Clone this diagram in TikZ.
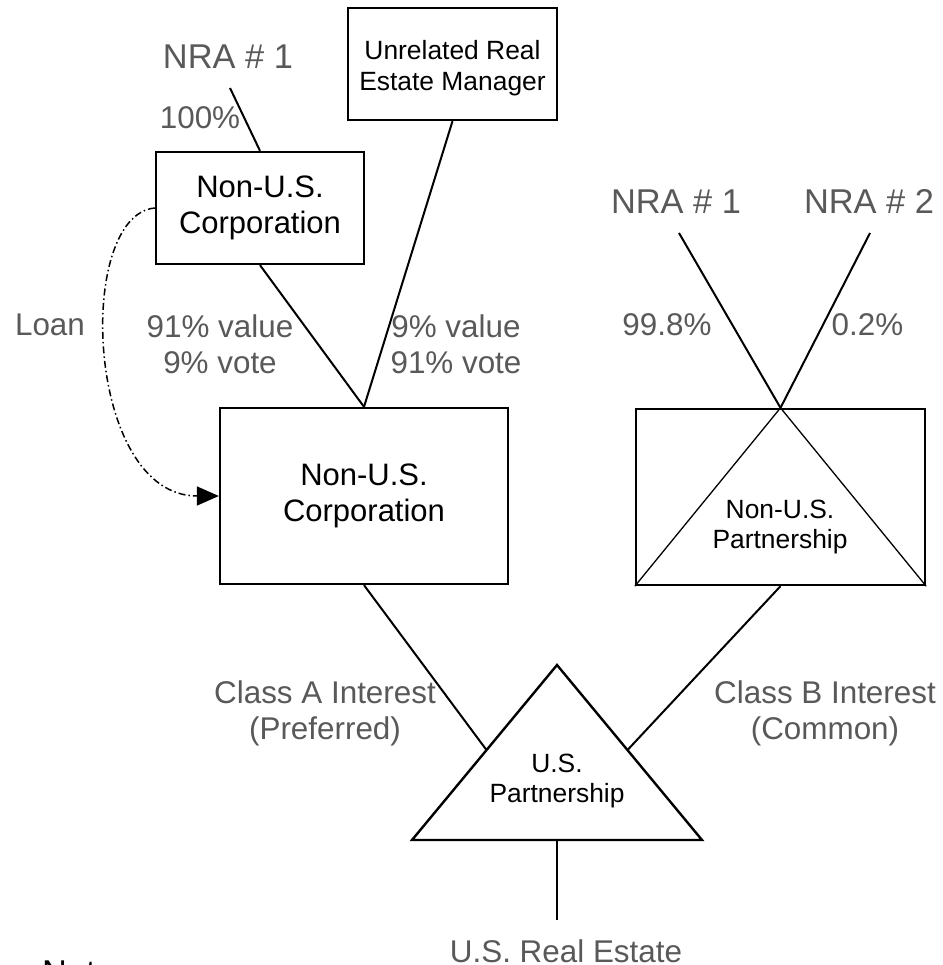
\documentclass[tikz,border=0pt]{standalone}
\usepackage{fontspec}
\setmainfont{Liberation Sans}
\usetikzlibrary{arrows.meta,calc}
\definecolor{labelgray}{RGB}{89,89,89}
\tikzset{
  box/.style={draw=black, line width=2.3pt, inner sep=0pt, align=center},
  bigtext/.style={font={\fontsize{31}{35.6}\selectfont}},
  smalltext/.style={font={\fontsize{26.4}{30.4}\selectfont}},
  lbl/.style={text=labelgray, inner sep=0pt, align=center,
              font={\fontsize{31.4}{36.1}\selectfont}},
  who/.style={text=labelgray, inner sep=0pt,
              font={\fontsize{34.4}{39.5}\selectfont}},
  link/.style={draw=black, line width=2pt},
  fine link/.style={draw=black, line width=1.3pt},
  outline/.style={draw=black, line width=2.4pt, line join=miter},
  loan line/.style={draw=black, line width=1.5pt,
                    dash pattern=on 7pt off 3pt on 1.5pt off 3pt,
                    -{Triangle[length=22pt,width=19pt]}},
}
\begin{document}
\begin{tikzpicture}[x=1pt,y=-1pt]
\useasboundingbox (0,0) rectangle (942,965);
\fill[white] (0,0) rectangle (942,965);

% ---- left ownership chain ----
\node[box, minimum width=209pt, minimum height=112pt] (mgr) at (452.5,64) {};
\node[smalltext, align=center, inner sep=0pt] (mgrtext) at (452.5,68)
  {Unrelated Real\\Estate Manager};
\node[box, bigtext, minimum width=208pt, minimum height=112pt] (hold) at (260,208)
  {Non-U.S.\\Corporation};
\node[box, bigtext, minimum width=288pt, minimum height=176pt] (corp) at (364,496)
  {Non-U.S.\\Corporation};

\node[who] (nraA) at (228,57) {NRA \# 1};
\coordinate (nraAfoot) at (230,88);
\node[lbl] (pctA) at (200,118) {100\%};

\draw[link] (nraAfoot) -- (hold.north);
\draw[link] (hold.south) -- (corp.north);
\draw[link] (mgr.south) -- (corp.north);

\node[lbl] (splitA) at (220,344) {91\% value\\9\% vote};
\node[lbl] (splitB) at (456,344) {9\% value\\91\% vote};

% loan from the parent corporation
\node[lbl] (loan) at (50,325) {Loan};
\draw[loan line] (hold.west) .. controls (75,215) and (85,496) .. (corp.west);

% ---- right ownership chain ----
\node[box, minimum width=289pt, minimum height=176pt] (fp) at (780.5,497) {};
\draw[fine link] (fp.south west) -- (fp.north) -- (fp.south east);
\node[smalltext, align=center, inner sep=0pt] (fptext) at (780,527)
  {Non-U.S.\\Partnership};

\node[who] (nraB) at (676,201.5) {NRA \# 1};
\node[who] (nraC) at (869,201.5) {NRA \# 2};
\coordinate (nraBfoot) at (679,233);
\coordinate (nraCfoot) at (870,233);
\draw[link] (nraBfoot) -- (fp.north);
\draw[link] (nraCfoot) -- (fp.north);
\node[lbl] (pctB) at (667,325) {99.8\%};
\node[lbl] (pctC) at (867.5,325) {0.2\%};

% ---- U.S. partnership ----
\coordinate (tapex) at (557,665);
\coordinate (tleft) at (412,840);
\coordinate (tright) at (702,840);
\draw[outline] (tleft) -- (tapex) -- (tright) -- cycle;
\node[smalltext, align=center, inner sep=0pt] (usp) at (557,781) {U.S.\\Partnership};

\coordinate (tA) at ($(tapex)!0.486!(tleft)$);
\coordinate (tB) at ($(tapex)!0.486!(tright)$);
\coordinate (tbase) at ($(tleft)!0.5!(tright)$);
\coordinate (land) at (557,920);

\draw[link] (corp.south) -- (tA);
\draw[link] (fp.south) -- (tB);
\draw[link] (tbase) -- (land);

\node[lbl] (classA) at (325,713) {Class A Interest\\(Preferred)};
\node[lbl] (classB) at (825,713) {Class B Interest\\(Common)};
\node[lbl] (estate) at (566,951) {U.S. Real Estate};

\node[anchor=north west, inner sep=0pt, font={\fontsize{34.4}{39.5}\selectfont}] (notes)
  at (42,961) {Notes:};
\end{tikzpicture}
\end{document}
